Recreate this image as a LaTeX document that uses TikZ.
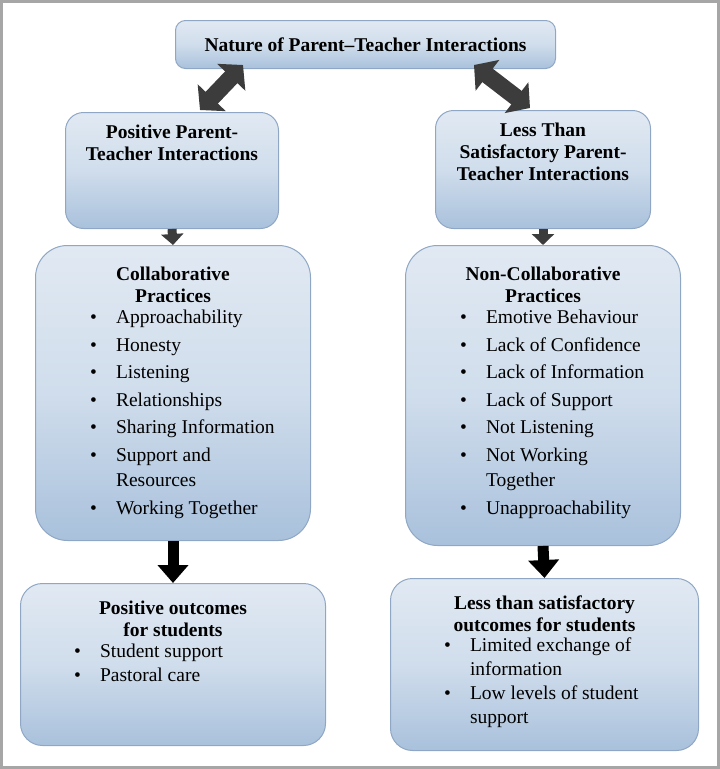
\documentclass[tikz,border=0pt]{standalone}
\usepackage{fontspec}
\setmainfont{Liberation Serif}
\usetikzlibrary{arrows.meta,calc}
\definecolor{boxblue}{HTML}{A9C1DC}
\definecolor{boxedge}{HTML}{8FA7C4}
\definecolor{arrowgray}{HTML}{3C3C3C}
\tikzset{
  box/.style={draw=boxedge,line width=1pt,rounded corners=#1,top color=boxblue!35!white,bottom color=boxblue,middle color=boxblue!55!white,anchor=north west,inner sep=0pt},
  box/.default=10pt,
  head/.style={font=\fontsize{19.5}{22}\selectfont\bfseries,align=center},
  items/.style={font=\fontsize{19.5}{27.5}\selectfont,anchor=north west,inner sep=0pt,align=left},
  fatarrow/.style={line width=9pt,draw=#1,-{Triangle[width=22pt,length=11pt]},shorten >=0pt},
  twoway/.style={line width=17pt,draw=arrowgray,{Triangle[width=38pt,length=17pt]}-{Triangle[width=38pt,length=17pt]}}
}
\newcommand{\itm}{\textbullet\hspace{19pt}}
\newcommand{\ind}{\phantom{\textbullet}\hspace{19pt}}
\begin{document}
\begin{tikzpicture}[x=1pt,y=-1pt]
\useasboundingbox (0,0) rectangle (720,769);
\draw[gray!70,line width=3pt] (1.5,1.5) rectangle (718.5,767.5);
% boxes
\node[box,minimum width=380pt,minimum height=48pt] (top) at (175,20) {};
\node[box=18pt,minimum width=213pt,minimum height=116pt] (pos) at (65,112) {};
\node[box=18pt,minimum width=215pt,minimum height=118pt] (neg) at (435,110) {};
\node[box=32pt,minimum width=275pt,minimum height=295pt] (collab) at (35,245) {};
\node[box=32pt,minimum width=275pt,minimum height=300pt] (noncollab) at (405,245) {};
\node[box=22pt,minimum width=305pt,minimum height=162pt] (posout) at (20,583) {};
\node[box=22pt,minimum width=308pt,minimum height=172pt] (negout) at (390,578) {};
% connectors
\draw[twoway] ($(pos.north west)+(135,-2)$) -- ($(top.south west)+(68,-4)$);
\draw[twoway] ($(neg.north west)+(95,-2)$) -- ($(top.south east)+(-82,-4)$);
\draw[fatarrow=arrowgray] (pos.south) -- (collab.north);
\draw[fatarrow=arrowgray] (neg.south) -- (noncollab.north);
\draw[fatarrow=black,line width=11pt,-{Triangle[width=30pt,length=18pt]}] (collab.south) -- (posout.north);
\draw[fatarrow=black,line width=11pt,-{Triangle[width=30pt,length=18pt]}] (noncollab.south) -- (negout.north);
% texts
\node[head] (toptext) at (top.center) {Nature of Parent–Teacher Interactions};
\node[head,anchor=north] (postext) at ($(pos.north)+(0,9)$) {Positive Parent-\\Teacher Interactions};
\node[head,anchor=north] (negtext) at ($(neg.north)+(0,9)$) {Less Than\\Satisfactory Parent-\\Teacher Interactions};
\node[head,anchor=north] (collabtext) at ($(collab.north)+(0,18)$) {Collaborative\\Practices};
\node[head,anchor=north] (noncollabtext) at ($(noncollab.north)+(0,18)$) {Non-Collaborative\\Practices};
\node[head,anchor=north] (posouttext) at ($(posout.north)+(0,14)$) {Positive outcomes\\for students};
\node[head,anchor=north] (negouttext) at ($(negout.north)+(0,14)$) {Less than satisfactory\\outcomes for students};
\node[items] (collablist) at (90,310) {\itm Approachability\\\itm Honesty\\\itm Listening\\\itm Relationships\\\itm Sharing Information\\\itm Support and\\[-2pt]\ind Resources\\\itm Working Together};
\node[items] (noncollablist) at (460,310) {\itm Emotive Behaviour\\\itm Lack of Confidence\\\itm Lack of Information\\\itm Lack of Support\\\itm Not Listening\\\itm Not Working\\[-2pt]\ind Together\\\itm Unapproachability};
\node[items,font=\fontsize{19.5}{24}\selectfont] (posoutlist) at (74,644) {\itm Student support\\\itm Pastoral care};
\node[items,font=\fontsize{19.5}{24}\selectfont] (negoutlist) at (444,638) {\itm Limited exchange of\\\ind information\\\itm Low levels of student\\\ind support};
\end{tikzpicture}
\end{document}
